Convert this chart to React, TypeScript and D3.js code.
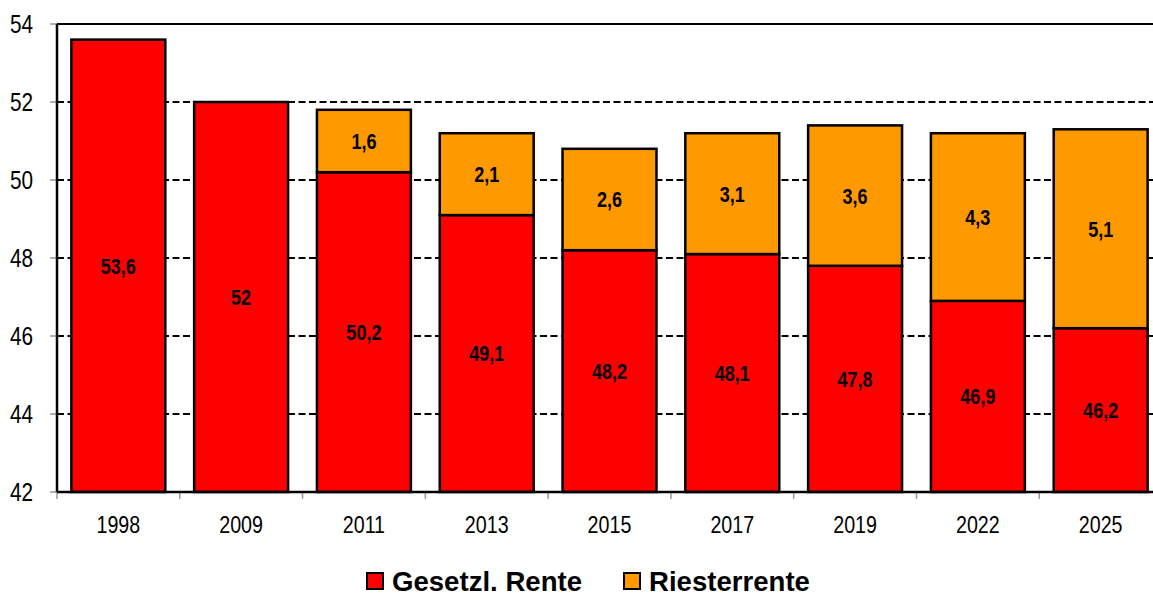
import React from 'react';
import * as d3 from 'd3';

const years = ['1998', '2009', '2011', '2013', '2015', '2017', '2019', '2022', '2025'];
const gesetzlRente = [53.6, 52, 50.2, 49.1, 48.2, 48.1, 47.8, 46.9, 46.2];
const riesterRente = [0, 0, 1.6, 2.1, 2.6, 3.1, 3.6, 4.3, 5.1];
const yTicks = [42, 44, 46, 48, 50, 52, 54];
const seriesNames = ['Gesetzl. Rente', 'Riesterrente'];
const seriesColors = ['#ff0000', '#ff9900'];

const W = 1153;
const H = 597;
const left = 57;
const right = 1162;
const top = 24;
const bottom = 492;
const font = '"Liberation Sans", Arial, sans-serif';

const fmt = (v: number) => String(v).replace('.', ',');

// condensed text, since no narrow font is installed
function T(props: { x: number; y: number; size: number; sx: number; anchor?: string; bold?: boolean; children: any }) {
  return (
    <text transform={`translate(${props.x},${props.y}) scale(${props.sx},1)`} dy="0.36em"
      textAnchor={props.anchor || 'start'} fontSize={props.size} fontWeight={props.bold ? 'bold' : 'normal'}>
      {props.children}
    </text>
  );
}

export default function App() {
  const x = d3.scaleBand().domain(years).range([left, right]).paddingInner(0.235).paddingOuter(0.117);
  const band = d3.scaleBand().domain(years).range([left, right]);
  const y = d3.scaleLinear().domain([42, 54]).range([bottom, top]);

  return (
    <svg width={W} height={H} style={{ position: 'absolute', left: 0, top: 0 }} fontFamily={font}>
      {/* gridlines */}
      {yTicks.filter(t => t > 42).map(t => (
        <line key={'g' + t} x1={left} x2={right} y1={y(t)} y2={y(t)}
          stroke="#000" strokeWidth={2} strokeDasharray="7,3.5" />
      ))}
      <line x1={left} x2={right} y1={y(54)} y2={y(54)} stroke="#000" strokeWidth={2} />
      {/* y ticks */}
      {yTicks.map(t => (
        <g key={'t' + t}>
          <line x1={left - 7} x2={left} y1={y(t)} y2={y(t)} stroke="#999" strokeWidth={1.5} />
          <T x={33} y={y(t)} size={25} sx={0.83} anchor="end">{t}</T>
        </g>
      ))}
      {/* x ticks */}
      {years.map((yr, i) => (
        <g key={'x' + yr}>
          <line x1={band(yr)!} x2={band(yr)!} y1={bottom} y2={bottom + 7} stroke="#999" strokeWidth={1.5} />
          {i === years.length - 1 && (
            <line x1={band(yr)! + band.bandwidth()} x2={band(yr)! + band.bandwidth()} y1={bottom} y2={bottom + 7} stroke="#999" strokeWidth={1.5} />
          )}
          <T x={x(yr)! + x.bandwidth() / 2} y={524} size={24} sx={0.82} anchor="middle">{yr}</T>
        </g>
      ))}
      {/* bars */}
      {years.map((yr, i) => {
        const g = gesetzlRente[i];
        const r = riesterRente[i];
        const bx = x(yr)!;
        const bw = x.bandwidth();
        return (
          <g key={'b' + yr}>
            <rect x={bx} y={y(g)} width={bw} height={y(42) - y(g)} fill={seriesColors[0]} stroke="#000" strokeWidth={2.5} />
            {r > 0 && (
              <rect x={bx} y={y(g + r)} width={bw} height={y(g) - y(g + r)} fill={seriesColors[1]} stroke="#000" strokeWidth={2.5} />
            )}
            <T x={bx + bw / 2} y={y((42 + g) / 2)} size={22} sx={0.82} anchor="middle" bold>{fmt(g)}</T>
            {r > 0 && (
              <T x={bx + bw / 2} y={y(g + r / 2)} size={22} sx={0.82} anchor="middle" bold>{fmt(r)}</T>
            )}
          </g>
        );
      })}
      {/* axis frame */}
      <line x1={left} x2={left} y1={top} y2={bottom} stroke="#000" strokeWidth={2.5} />
      <line x1={left} x2={right} y1={bottom} y2={bottom} stroke="#000" strokeWidth={2.5} />
      {/* legend */}
      <g>
        <rect x={367} y={573} width={16} height={16} fill={seriesColors[0]} stroke="#000" strokeWidth={2} />
        <T x={392} y={580.5} size={28} sx={0.985} bold>{seriesNames[0]}</T>
        <rect x={624} y={573} width={16} height={16} fill={seriesColors[1]} stroke="#000" strokeWidth={2} />
        <T x={649} y={580.5} size={28} sx={0.985} bold>{seriesNames[1]}</T>
      </g>
    </svg>
  );
}
